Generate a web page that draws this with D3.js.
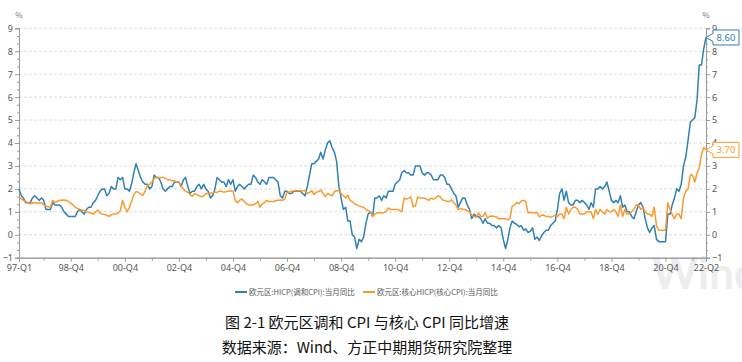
<!DOCTYPE html>
<html>
<head>
<meta charset="utf-8">
<script src="https://cdn.jsdelivr.net/npm/d3@7"></script>
<style>
  html, body { margin: 0; padding: 0; background: #fff; }
  svg { display: block; font-family: "Noto Sans CJK SC", "Noto Sans", sans-serif; }
</style>
</head>
<body>
<div id="chart"></div>
<script>
// 欧元区 HICP 当月同比 (%), 1997-01 .. 2022-06, monthly
var hicp = [
  2.0, 1.7, 1.6, 1.4, 1.4, 1.4, 1.6, 1.7, 1.6, 1.5, 1.6, 1.5,
  1.1, 1.1, 1.1, 1.4, 1.3, 1.3, 1.3, 1.2, 1.0, 0.9, 0.8, 0.8,
  0.8, 0.8, 1.0, 1.1, 1.0, 0.9, 1.1, 1.2, 1.2, 1.4, 1.5, 1.7,
  1.9, 2.0, 2.0, 1.7, 1.8, 2.1, 2.0, 2.0, 2.5, 2.4, 2.5, 2.0,
  2.0, 1.9, 2.2, 2.7, 3.1, 2.8, 2.5, 2.3, 2.2, 2.2, 2.0, 2.1,
  2.6, 2.5, 2.5, 2.3, 2.0, 1.9, 2.0, 2.1, 2.1, 2.3, 2.3, 2.3,
  2.1, 2.4, 2.5, 2.1, 1.8, 1.9, 1.9, 2.1, 2.2, 2.0, 2.2, 2.0,
  1.9, 1.6, 1.7, 2.0, 2.5, 2.4, 2.3, 2.3, 2.1, 2.4, 2.2, 2.4,
  1.9, 2.1, 2.2, 2.1, 2.0, 2.1, 2.2, 2.2, 2.6, 2.5, 2.3, 2.2,
  2.4, 2.3, 2.2, 2.5, 2.5, 2.5, 2.4, 2.3, 1.7, 1.6, 1.9, 1.9,
  1.8, 1.8, 1.9, 1.9, 1.9, 1.9, 1.8, 1.7, 2.1, 2.6, 3.1, 3.1,
  3.2, 3.3, 3.6, 3.3, 3.7, 4.0, 4.1, 3.8, 3.6, 3.2, 2.1, 1.6,
  1.1, 1.2, 0.6, 0.6, 0.0, -0.1, -0.6, -0.2, -0.3, -0.1, 0.5, 0.9,
  1.0, 0.8, 1.6, 1.6, 1.7, 1.5, 1.7, 1.6, 1.9, 1.9, 1.9, 2.2,
  2.3, 2.4, 2.7, 2.8, 2.7, 2.7, 2.6, 2.6, 3.0, 3.0, 3.0, 2.7,
  2.6, 2.7, 2.7, 2.6, 2.4, 2.4, 2.4, 2.6, 2.6, 2.5, 2.2, 2.2,
  2.0, 1.8, 1.7, 1.2, 1.4, 1.6, 1.6, 1.3, 1.1, 0.7, 0.9, 0.8,
  0.8, 0.7, 0.5, 0.7, 0.5, 0.5, 0.4, 0.4, 0.3, 0.4, 0.3, -0.2,
  -0.6, -0.2, 0.3, 0.6, 0.5, 0.45, 0.35, 0.4, 0.2, 0.25, 0.1, 0.15,
  0.3, -0.2, -0.1, -0.25, -0.05, 0.1, 0.2, 0.2, 0.4, 0.5, 0.6, 1.1,
  1.8, 2.0, 1.5, 1.9, 1.4, 1.3, 1.3, 1.5, 1.5, 1.4, 1.5, 1.4,
  1.3, 1.1, 1.4, 1.2, 2.0, 2.0, 2.1, 2.0, 2.1, 2.3, 1.9, 1.5,
  1.4, 1.5, 1.4, 1.7, 1.2, 1.3, 1.0, 1.0, 0.8, 0.7, 1.0, 1.3,
  1.4, 1.2, 0.7, 0.3, 0.1, 0.3, 0.4, -0.2, -0.3, -0.3, -0.3, -0.3,
  0.9, 0.9, 1.3, 1.6, 2.0, 1.9, 2.2, 3.0, 3.4, 4.1, 4.9, 5.0,
  5.1, 5.9, 7.4, 7.4, 8.1, 8.6
]
// 欧元区 核心HICP 当月同比 (%)
var coreHicp = [
  1.65, 1.56, 1.5, 1.45, 1.4, 1.35, 1.4, 1.38, 1.38, 1.4, 1.4, 1.3,
  1.25, 1.22, 1.2, 1.5, 1.4, 1.45, 1.5, 1.5, 1.52, 1.5, 1.45, 1.38,
  1.3, 1.2, 1.15, 1.1, 1.08, 1.05, 1.0, 0.97, 0.95, 0.9, 1.0, 1.08,
  0.95, 0.9, 0.88, 0.85, 0.8, 0.87, 0.9, 0.9, 0.95, 1.05, 1.5, 1.2,
  1.0, 1.2, 1.45, 1.75, 1.88, 1.85, 1.78, 1.72, 1.9, 2.15, 2.2, 2.3,
  2.45, 2.5, 2.5, 2.5, 2.5, 2.45, 2.4, 2.4, 2.35, 2.35, 2.3, 2.3,
  2.1, 2.0, 1.9, 1.85, 1.75, 1.67, 1.8, 1.75, 1.7, 1.65, 1.7, 1.8,
  1.8, 1.82, 1.83, 1.85, 1.85, 1.9, 1.9, 1.85, 1.88, 1.9, 1.92, 1.9,
  1.5, 1.4, 1.5, 1.56, 1.45, 1.35, 1.3, 1.3, 1.3, 1.35, 1.45, 1.2,
  1.35, 1.4, 1.5, 1.45, 1.45, 1.45, 1.48, 1.5, 1.52, 1.5, 1.55, 1.85,
  1.85, 1.9, 1.92, 1.92, 1.92, 1.92, 1.92, 1.92, 1.8, 1.85, 1.92, 1.75,
  1.85, 1.88, 1.95, 1.8, 1.66, 1.8, 1.75, 1.7, 1.88, 1.92, 1.92, 1.8,
  1.7, 1.6, 1.73, 1.5, 1.45, 1.35, 1.3, 1.26, 1.22, 1.2, 1.1, 1.05,
  1.0, 0.8, 0.9, 0.95, 0.97, 0.95, 0.97, 1.0, 1.17, 1.1, 1.1, 1.1,
  1.1, 1.05, 1.0, 1.6, 1.55, 1.6, 1.65, 1.23, 1.25, 1.65, 1.6, 1.6,
  1.6, 1.55, 1.5, 1.6, 1.55, 1.6, 1.7, 1.65, 1.52, 1.5, 1.45, 1.45,
  1.52, 1.4, 1.3, 1.08, 1.15, 1.1, 1.1, 1.05, 1.0, 0.86, 0.8, 0.76,
  0.95, 0.8, 0.8, 0.97, 0.72, 0.8, 0.82, 0.8, 0.78, 0.7, 0.7, 0.7,
  0.7, 0.65, 0.72, 1.25, 1.3, 1.4, 1.35, 1.47, 1.5, 1.45, 0.95, 0.97,
  0.97, 0.95, 0.97, 0.78, 0.85, 0.86, 0.8, 0.8, 0.76, 0.8, 0.86, 0.8,
  0.9, 0.9, 0.7, 1.2, 0.9, 1.1, 1.2, 1.2, 1.1, 0.9, 0.9, 0.9,
  1.0, 1.0, 1.0, 0.7, 1.1, 0.9, 1.1, 1.0, 0.9, 1.1, 1.0, 1.0,
  1.1, 1.0, 0.8, 1.3, 0.8, 1.1, 0.9, 0.9, 1.0, 1.1, 1.3, 1.3,
  1.1, 1.2, 1.0, 0.9, 0.9, 0.8, 1.2, 0.4, 0.2, 0.2, 0.2, 0.2,
  1.4, 1.1, 0.9, 0.7, 0.9, 0.9, 0.7, 1.6, 1.9, 2.0, 2.6, 2.6,
  2.3, 2.7, 2.9, 3.5, 3.8, 3.7
]
var seriesNames = ["欧元区:HICP(调和CPI):当月同比", "欧元区:核心HICP(核心CPI):当月同比"]
var seriesColors = ["#2f80b4", "#fa9a2e"]
// x 轴刻度: [年, 月, 标签]
var xTicks = [
  [1997, 1, "97-Q1"], [1998, 12, "98-Q4"], [2000, 12, "00-Q4"], [2002, 12, "02-Q4"],
  [2004, 12, "04-Q4"], [2006, 12, "06-Q4"], [2008, 12, "08-Q4"], [2010, 12, "10-Q4"],
  [2012, 12, "12-Q4"], [2014, 12, "14-Q4"], [2016, 12, "16-Q4"], [2018, 12, "18-Q4"],
  [2020, 12, "20-Q4"], [2022, 6, "22-Q2"]
]
var yTicks = [-1, 0, 1, 2, 3, 4, 5, 6, 7, 8, 9]
var titleText = "图 2-1 欧元区调和 CPI 与核心 CPI 同比增速"
var sourceText = "数据来源：Wind、方正中期期货研究院整理"

var W = 742, H = 362
var pLeft = 19, pRight = 706, pTop = 28.3, pBottom = 257.7

var dates = hicp.map((d, i) => new Date(1997, i, 1))

var x = d3.scaleTime().domain([new Date(1997, 0, 1), new Date(2022, 5, 1)]).range([pLeft, pRight])
var y = d3.scaleLinear().domain([-1, 9]).range([pBottom, pTop])

var svg = d3.select("#chart").append("svg").attr("width", W).attr("height", H)

//水印
svg.append("text").attr("x", 652).attr("y", 289).text("Wind")
  .attr("font-family", "Lato, sans-serif").attr("font-size", 44).attr("font-weight", "bold")
  .attr("fill", "#ededed")

//网格
svg.append("g").selectAll("line").data(yTicks.filter(v => v > -1)).enter().append("line")
  .attr("x1", pLeft).attr("x2", pRight)
  .attr("y1", d => y(d)).attr("y2", d => y(d))
  .attr("stroke", "#dcdcdc").attr("stroke-width", 1).attr("stroke-dasharray", "3,2")

var axisColor = "#9a9a9a", labelColor = "#555"
var minorY = []
yTicks.forEach(v => { if (v < 9) { minorY.push(v + 1 / 3, v + 2 / 3) } })

var yl = d3.axisLeft(y).tickValues(yTicks).tickSize(4).tickPadding(2).tickFormat(d3.format("d"))
var yr = d3.axisRight(y).tickValues(yTicks).tickSize(4).tickPadding(2).tickFormat(d3.format("d"))
svg.append("g").attr("transform", "translate(" + pLeft + ",0)").call(yl)
svg.append("g").attr("transform", "translate(" + pRight + ",0)").call(yr)
svg.append("g").attr("transform", "translate(" + pLeft + ",0)")
  .call(d3.axisLeft(y).tickValues(minorY).tickSize(2).tickFormat(""))
svg.append("g").attr("transform", "translate(" + pRight + ",0)")
  .call(d3.axisRight(y).tickValues(minorY).tickSize(2).tickFormat(""))

var xTickDates = xTicks.map(t => new Date(t[0], t[1] - 1, 1))
var xa = d3.axisBottom(x).tickValues(xTickDates).tickSize(4).tickPadding(3)
  .tickFormat((d, i) => xTicks[i][2])
svg.append("g").attr("transform", "translate(0," + pBottom + ")").call(xa)
var minorX = d3.range(1997, 2022, 2).map(yr => new Date(yr, 11, 1))
svg.append("g").attr("transform", "translate(0," + pBottom + ")")
  .call(d3.axisBottom(x).tickValues(minorX).tickSize(3).tickFormat(""))

svg.selectAll(".domain").attr("stroke", axisColor)
svg.selectAll(".tick line").attr("stroke", axisColor)
svg.selectAll(".tick text").attr("fill", labelColor).attr("font-size", 9)
  .attr("font-family", "'Noto Sans', sans-serif")

svg.append("text").attr("x", 19).attr("y", 18).attr("text-anchor", "middle").text("%")
  .attr("font-size", 8).attr("fill", "#777")
svg.append("text").attr("x", 706).attr("y", 18).attr("text-anchor", "middle").text("%")
  .attr("font-size", 8).attr("fill", "#777")

//折线
var line = d3.line().x((d, i) => x(dates[i])).y(d => y(d))
;[hicp, coreHicp].forEach((s, k) => {
  svg.append("path").datum(s).attr("d", line)
    .attr("fill", "none").attr("stroke", seriesColors[k]).attr("stroke-width", 1.5)
    .attr("stroke-linejoin", "round")
})

//末值标签
;[hicp, coreHicp].forEach((s, k) => {
  var v = s[s.length - 1]
  var px = x(dates[dates.length - 1]), py = y(v)
  var bx = px + 7, bw = 26, bh = 15
  var p = "M" + px + "," + py + "L" + bx + "," + (py - 4) + "L" + bx + "," + (py - bh / 2) +
    "L" + (bx + bw) + "," + (py - bh / 2) + "L" + (bx + bw) + "," + (py + bh / 2) +
    "L" + bx + "," + (py + bh / 2) + "L" + bx + "," + (py + 4) + "Z"
  svg.append("path").attr("d", p).attr("fill", "#fff").attr("stroke", seriesColors[k]).attr("stroke-width", 1)
  svg.append("text").attr("x", bx + bw / 2).attr("y", py + 3.5).attr("text-anchor", "middle")
    .text(v.toFixed(2)).attr("font-size", 9.5).attr("fill", seriesColors[k])
    .attr("font-family", "'Noto Sans', sans-serif")
})

//图例
var legend = svg.append("g").attr("transform", "translate(235,292)")
var lx = [0, 128]
seriesNames.forEach((n, k) => {
  var g = legend.append("g").attr("transform", "translate(" + lx[k] + ",0)")
  g.append("line").attr("x1", 0).attr("x2", 12).attr("y1", 0).attr("y2", 0)
    .attr("stroke", seriesColors[k]).attr("stroke-width", 2)
  g.append("text").attr("x", 14).attr("y", 2.8).text(n).attr("font-size", 7.5).attr("fill", "#555")
})

//标题
svg.append("text").attr("x", 367).attr("y", 328).attr("text-anchor", "middle").text(titleText)
  .attr("font-size", 15).attr("fill", "#111")
svg.append("text").attr("x", 367).attr("y", 353).attr("text-anchor", "middle").text(sourceText)
  .attr("font-size", 15).attr("fill", "#111")
</script>
</body>
</html>
